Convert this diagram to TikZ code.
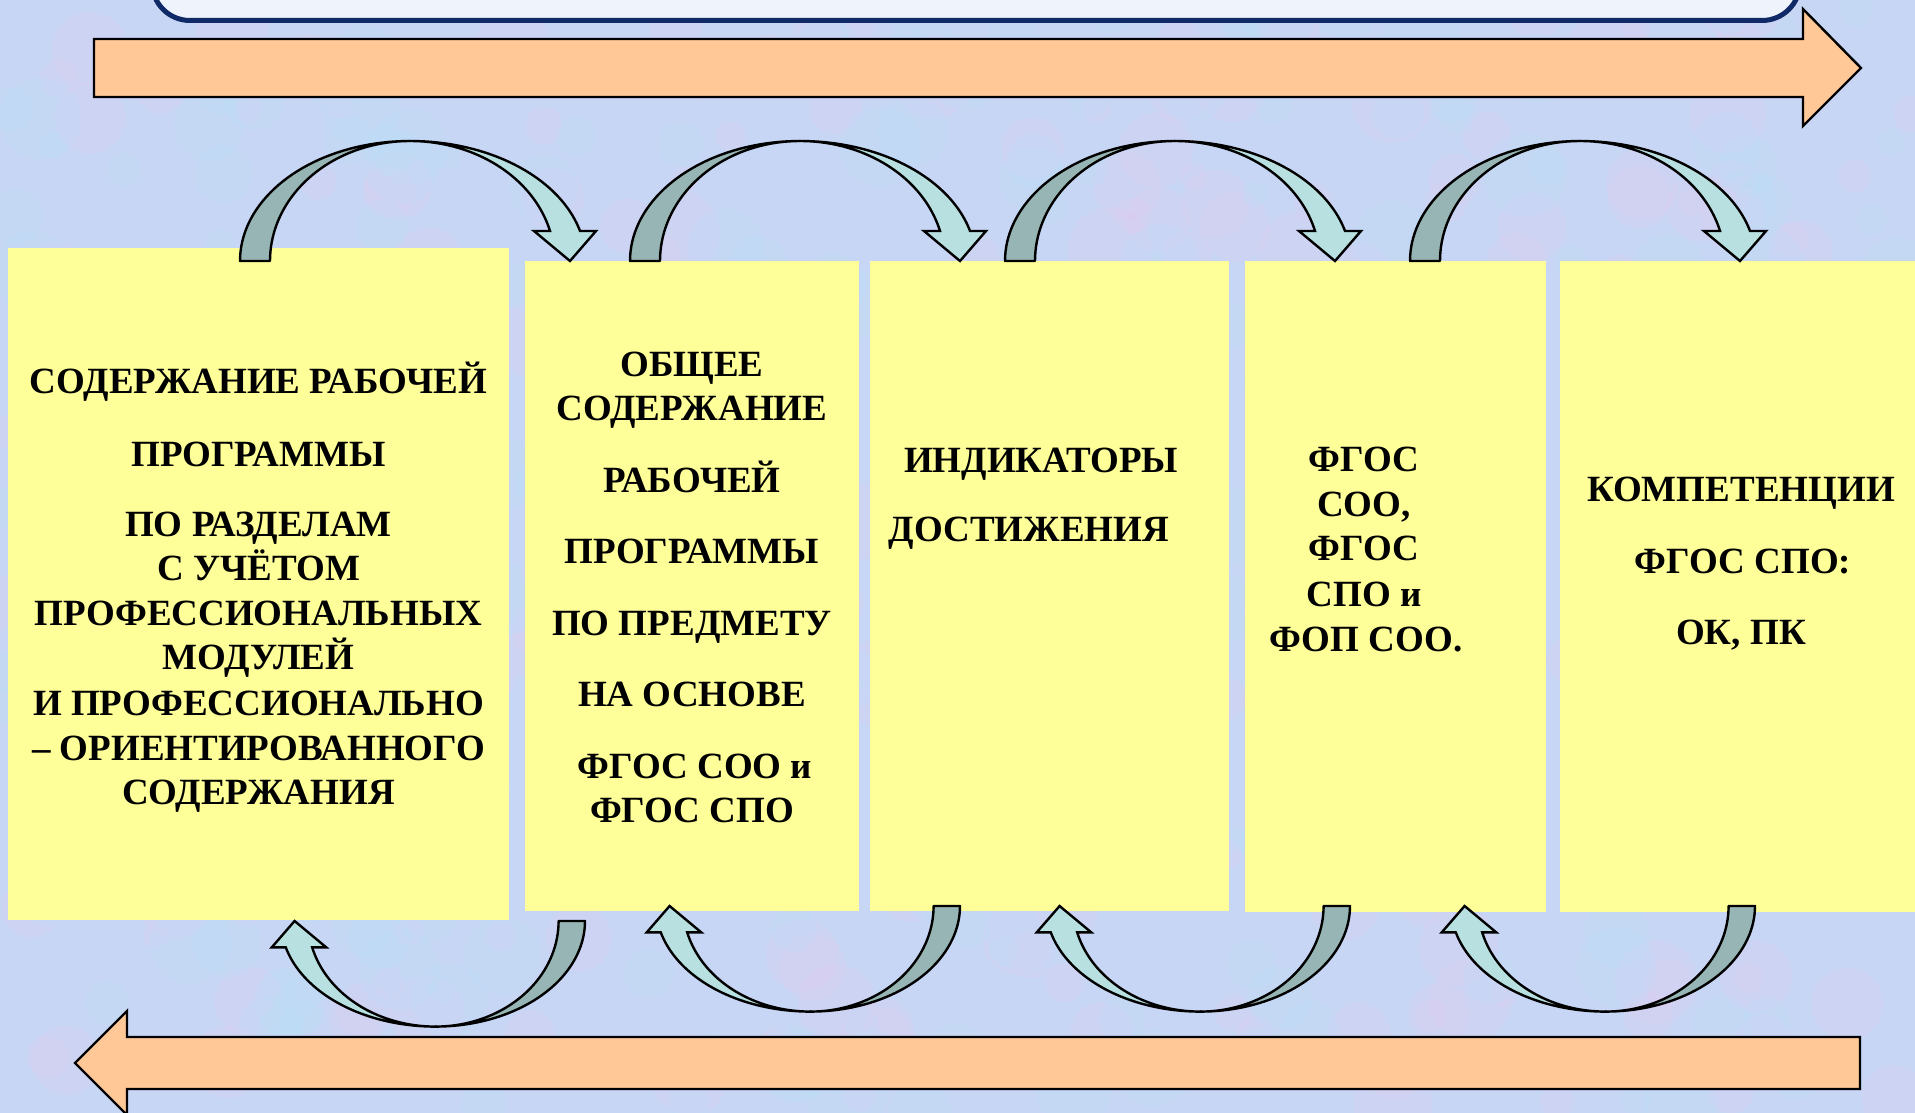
\documentclass[tikz,border=0pt]{standalone}
\usepackage{fontspec}
\setmainfont{Liberation Serif}
\definecolor{bgc}{RGB}{199,214,244}
\definecolor{bgpink}{RGB}{232,200,240}
\definecolor{bgcyan}{RGB}{185,225,248}
\definecolor{boxy}{RGB}{255,255,153}
\definecolor{peach}{RGB}{255,200,150}
\definecolor{banddark}{RGB}{151,181,180}
\definecolor{bandlight}{RGB}{185,224,224}
\definecolor{navy}{RGB}{16,42,104}
\definecolor{topfill}{RGB}{238,243,252}
\newcommand\toparc[1]{%
\begin{scope}[shift={(#1)},yscale=-1]
  \filldraw[darkband] plot[domain=180:90,samples=40,variable=\t] ({170+170*cos(\t)},{120*sin(\t)})
    -- plot[domain=90:180,samples=40,variable=\t] ({170+140*cos(\t)},{120*sin(\t)}) -- cycle;
  \filldraw[lightband] plot[domain=90:14.48,samples=40,variable=\t] ({170+175.6*cos(\t)},{120*sin(\t)})
    -- (356,30) -- (330,0) -- (294,30)
    -- plot[domain=14.48:90,samples=40,variable=\t] ({170+144.6*cos(\t)},{120*sin(\t)}) -- cycle;
\end{scope}}
\newcommand\botarc[1]{%
\begin{scope}[shift={(#1)},xscale=-0.88,yscale=0.88]
  \filldraw[darkband] plot[domain=180:90,samples=40,variable=\t] ({170+170*cos(\t)},{120*sin(\t)})
    -- plot[domain=90:180,samples=40,variable=\t] ({170+140*cos(\t)},{120*sin(\t)}) -- cycle;
  \filldraw[lightband] plot[domain=90:14.48,samples=40,variable=\t] ({170+175.6*cos(\t)},{120*sin(\t)})
    -- (356,30) -- (330,0) -- (294,30)
    -- plot[domain=14.48:90,samples=40,variable=\t] ({170+144.6*cos(\t)},{120*sin(\t)}) -- cycle;
\end{scope}}
\begin{document}
\begin{tikzpicture}[x=1pt,y=-1pt,
  ybox/.style={fill=boxy,draw=none,inner sep=0pt,outer sep=0pt,anchor=north west},
  txt/.style={font=\fontsize{37}{44}\selectfont\bfseries,anchor=base,inner sep=0pt},
  bigarrow/.style={fill=peach,draw=black,line width=2.4pt,line join=miter},
  darkband/.style={fill=banddark,draw=black,line width=2.4pt,line join=round},
  lightband/.style={fill=bandlight,draw=black,line width=2.4pt,line join=miter}]
\useasboundingbox (0,0) rectangle (1915,1113);
\clip (0,0) rectangle (1915,1113);
\fill[bgc] (0,0) rectangle (1915,1113);
% mottled background texture
\pgfmathsetseed{4242}
\foreach \i in {1,...,260}{
  \pgfmathsetmacro\px{rnd*1915}\pgfmathsetmacro\py{rnd*1113}\pgfmathsetmacro\pr{12+rnd*30}
  \fill[bgpink,opacity=0.18] (\px,\py) circle[radius=\pr pt];
}
\foreach \i in {1,...,260}{
  \pgfmathsetmacro\px{rnd*1915}\pgfmathsetmacro\py{rnd*1113}\pgfmathsetmacro\pr{12+rnd*30}
  \fill[bgcyan,opacity=0.2] (\px,\py) circle[radius=\pr pt];
}
% top banner
\draw[navy,line width=5pt,fill=topfill,rounded corners=38pt] (152,-120) rectangle (1800,20.5);
% big arrows
\draw[bigarrow] (94,39) -- (1803,39) -- (1803,9) -- (1861,68) -- (1803,126) -- (1803,97) -- (94,97) -- cycle;
\draw[bigarrow] (1860,1037) -- (127,1037) -- (127,1011) -- (75,1063) -- (127,1115) -- (127,1089) -- (1860,1089) -- cycle;
% boxes
\node[ybox,minimum width=501pt,minimum height=672pt] (box1) at (8,248) {};
\node[ybox,minimum width=334pt,minimum height=650pt] (box2) at (525,261) {};
\node[ybox,minimum width=359pt,minimum height=650pt] (box3) at (870,261) {};
\node[ybox,minimum width=301pt,minimum height=651pt] (box4) at (1245,261) {};
\node[ybox,minimum width=380pt,minimum height=651pt] (box5) at (1560,261) {};
% texts box1
\node[txt] (a1) at (258.5,393) {СОДЕРЖАНИЕ РАБОЧЕЙ};
\node[txt] (a2) at (258.5,466) {ПРОГРАММЫ};
\node[txt] (a3) at (258.5,536) {ПО РАЗДЕЛАМ};
\node[txt] (a4) at (258.5,580) {С УЧЁТОМ};
\node[txt] (a5) at (258.5,625) {ПРОФЕССИОНАЛЬНЫХ};
\node[txt] (a6) at (258.5,669) {МОДУЛЕЙ};
\node[txt] (a7) at (258.5,715) {И ПРОФЕССИОНАЛЬНО};
\node[txt] (a8) at (258.5,760) {– ОРИЕНТИРОВАННОГО};
\node[txt] (a9) at (258.5,804) {СОДЕРЖАНИЯ};
% box2
\node[txt] (b1) at (692,376) {ОБЩЕЕ};
\node[txt] (b2) at (692,420) {СОДЕРЖАНИЕ};
\node[txt] (b3) at (692,492) {РАБОЧЕЙ};
\node[txt] (b4) at (692,563) {ПРОГРАММЫ};
\node[txt] (b5) at (692,635) {ПО ПРЕДМЕТУ};
\node[txt] (b6) at (692,706) {НА ОСНОВЕ};
\node[txt] (b7) at (695,778) {ФГОС СОО и};
\node[txt] (b8) at (692,822) {ФГОС СПО};
% box3
\node[txt] (c1) at (1041,472) {ИНДИКАТОРЫ};
\node[txt] (c2) at (1029,541) {ДОСТИЖЕНИЯ};
% box4
\node[txt] (d1) at (1364,471) {ФГОС};
\node[txt] (d2) at (1364,516) {СОО,};
\node[txt] (d3) at (1364,560) {ФГОС};
\node[txt] (d4) at (1364,606) {СПО и};
\node[txt] (d5) at (1366,651) {ФОП СОО.};
% box5
\node[txt] (e1) at (1741,501) {КОМПЕТЕНЦИИ};
\node[txt] (e2) at (1743,573) {ФГОС СПО:};
\node[txt] (e3) at (1741,644) {ОК, ПК};
% curved arrows
\coordinate (t1) at (240,261);
\coordinate (t2) at (630,261);
\coordinate (t3) at (1005,261);
\coordinate (t4) at (1410,261);
\coordinate (u1) at (585,921);
\coordinate (u2) at (960,906);
\coordinate (u3) at (1350,906);
\coordinate (u4) at (1755,906);
\toparc{t1}\toparc{t2}\toparc{t3}\toparc{t4}
\botarc{u1}\botarc{u2}\botarc{u3}\botarc{u4}
\end{tikzpicture}
\end{document}
